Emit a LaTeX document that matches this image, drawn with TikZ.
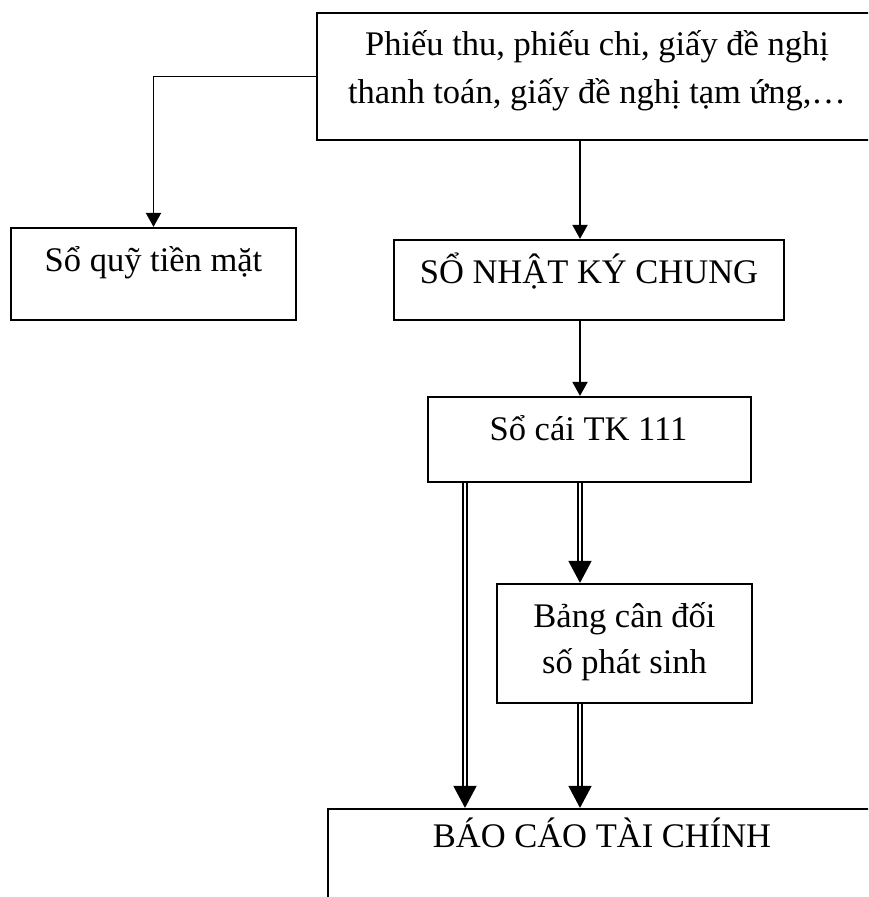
\documentclass[tikz,border=0pt]{standalone}
\usepackage{fontspec}
\setmainfont{Liberation Serif}
\usetikzlibrary{arrows.meta}
\begin{document}
\begin{tikzpicture}[x=1pt,y=-1pt,
  box/.style={draw, line width=2.2pt, rectangle, inner sep=0pt},
  lbl/.style={font=\fontsize{34.5}{48}\selectfont, inner sep=0pt, anchor=base, align=center},
  flow/.style={line width=1.9pt, -{Triangle[width=15pt,length=14pt]}},
  dflow/.style={double, double distance=2.6pt, line width=1.5pt, -{Triangle[width=23pt,length=22pt]}}]
\useasboundingbox (0,0) rectangle (868,897);
\clip (0,0) rectangle (868,897);

% boxes
\node[box, minimum width=560pt, minimum height=127pt] (src)   at (597,76.5)  {};
\node[box, minimum width=285pt, minimum height=92pt]  (quy)   at (153.5,274) {};
\node[box, minimum width=390pt, minimum height=80pt]  (snkc)  at (589,280)   {};
\node[box, minimum width=323pt, minimum height=85pt]  (socai) at (589.5,439.5) {};
\node[box, minimum width=255pt, minimum height=119pt] (bang)  at (624.5,643.5) {};
\node[box, minimum width=548pt, minimum height=152pt] (bctc)  at (602,885)   {};

% labels (a two-line label sits on the baseline of its last line)
\node[lbl] (srct)   at (597,103)  {Phiếu thu, phiếu chi, giấy đề nghị\\thanh toán, giấy đề nghị tạm ứng,…};
\node[lbl] (quyt)   at (153.5,271) {Sổ quỹ tiền mặt};
\node[lbl] (snkct)  at (589,283)  {SỔ NHẬT KÝ CHUNG};
\node[lbl] (socait) at (588.5,440) {Sổ cái TK 111};
\node[lbl, font=\fontsize{34.5}{46}\selectfont] (bangt) at (624.5,673) {Bảng cân đối\\số phát sinh};
\node[lbl] (bctct)  at (602,847)  {BÁO CÁO TÀI CHÍNH};

% connector columns
\coordinate (c1) at (580,0);
\coordinate (c2) at (465,0);

% connectors
\draw[flow] (src.west) -| (quy.north);
\draw[flow] (src.south -| c1) -- (snkc.north -| c1);
\draw[flow] (snkc.south -| c1) -- (socai.north -| c1);
\draw[dflow] (socai.south -| c1) -- (bang.north -| c1);
\draw[dflow] (socai.south -| c2) -- (bctc.north -| c2);
\draw[dflow] (bang.south -| c1) -- (bctc.north -| c1);
\end{tikzpicture}
\end{document}
